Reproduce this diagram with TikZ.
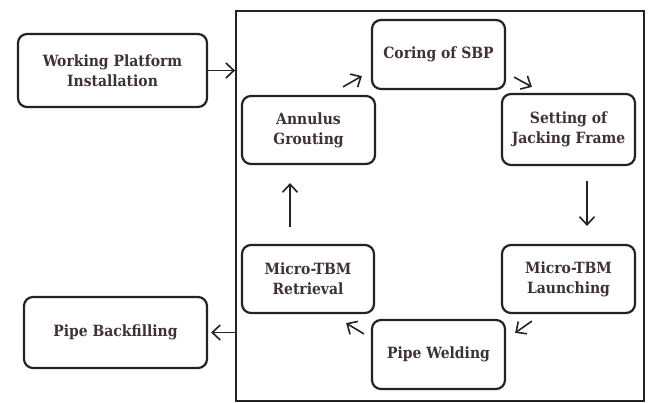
\documentclass[tikz,border=0pt]{standalone}
\usepackage{fontspec}
\setmainfont{DejaVu Serif Condensed}
\usetikzlibrary{arrows.meta}
\definecolor{txt}{RGB}{62,50,50}
\definecolor{ln}{RGB}{35,35,35}
\tikzset{
  x=1pt,y=1pt,
  stepbox/.style={draw=ln, line width=2.2pt, rounded corners=9pt, align=center,
    font=\fontsize{15.5}{20}\selectfont\bfseries, text=txt, inner sep=0pt},
  arr/.style={draw=ln, line width=1.6pt, -{Straight Barb[length=8pt,width=15pt,line width=1.6pt]}},
}
\begin{document}
\begin{tikzpicture}
\useasboundingbox (0,0) rectangle (648,402);
\node[draw=ln, line width=1.8pt, minimum width=408pt, minimum height=390pt, inner sep=0pt] (frame) at (440,196) {};
\node[stepbox, minimum width=189pt, minimum height=73pt] (wp) at (112.5,331.5) {Working Platform\\Installation};
\node[stepbox, minimum width=133pt, minimum height=68pt] (ann) at (308.5,272) {Annulus\\Grouting};
\node[stepbox, minimum width=133pt, minimum height=69pt] (cor) at (438.5,347.5) {Coring of SBP};
\node[stepbox, minimum width=133pt, minimum height=71pt] (set) at (568.5,272.5) {Setting of\\Jacking Frame};
\node[stepbox, minimum width=133pt, minimum height=68pt] (lau) at (568.5,123) {Micro-TBM\\Launching};
\node[stepbox, minimum width=133pt, minimum height=69pt] (wel) at (438.5,47.5) {Pipe Welding};
\node[stepbox, minimum width=132pt, minimum height=68pt] (ret) at (308,123) {Micro-TBM\\Retrieval};
\node[stepbox, minimum width=183pt, minimum height=71pt] (pb) at (115.5,69.5) {Pipe Backfilling};
\draw[arr] (wp.east) -- (wp.east -| frame.west);
\draw[arr] ([shift={(34.5,8)}]ann.north) -- ([shift={(-9,14)}]cor.south west);
\draw[arr] ([shift={(8,13)}]cor.south east) -- ([shift={(31,6)}]set.north west);
\draw[arr] ([shift={(18.5,-15)}]set.south) -- ([shift={(18.5,18)}]lau.north);
\draw[arr] ([shift={(31,-7)}]lau.south west) -- ([shift={(9,-14)}]wel.north east);
\draw[arr] ([shift={(-7,-15)}]wel.north west) -- ([shift={(-29,-9)}]ret.south east);
\draw[arr] ([shift={(-18,17)}]ret.north) -- ([shift={(-18.5,-18)}]ann.south);
\draw[arr, shorten >=3pt] (pb.east -| frame.west) -- (pb.east);
\end{tikzpicture}
\end{document}
